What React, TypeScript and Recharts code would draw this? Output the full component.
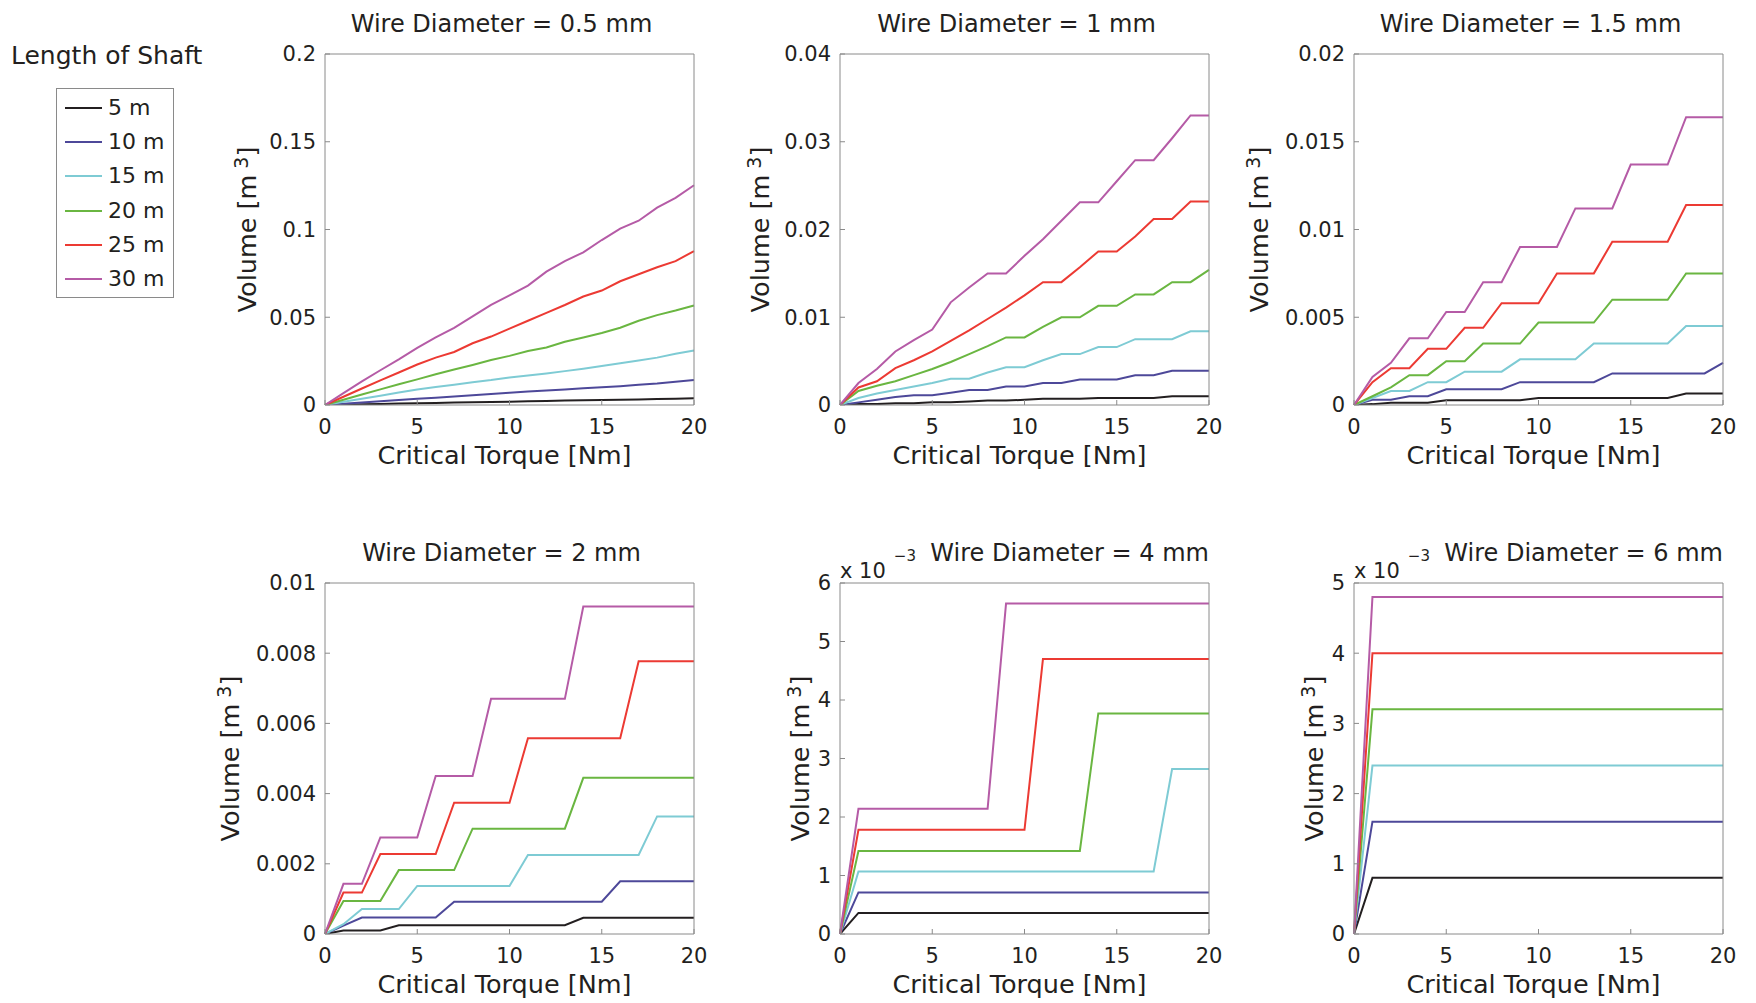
import { LineChart, Line, XAxis, YAxis, Label, Legend } from 'recharts'

const FONT = '"DejaVu Sans", sans-serif'
const INK = '#231f20'
const FRAME = '#8a8a8a'

const TORQUE = [0, 1, 2, 3, 4, 5, 6, 7, 8, 9, 10, 11, 12, 13, 14, 15, 16, 17, 18, 19, 20]
const X_TICKS = [0, 5, 10, 15, 20]
const LENGTHS = ['5 m', '10 m', '15 m', '20 m', '25 m', '30 m']
const COLORS = ['#231f20', '#4d4899', '#7ecbd4', '#6ab641', '#ec3a33', '#b55ba6']

// volume [m^3] per shaft length (rows 5 m ... 30 m), one value per torque step 0..20 Nm
const VOL_05 = [
  [0, 0.0002, 0.0004, 0.0006, 0.0008, 0.001, 0.0012, 0.0014, 0.0016, 0.0017, 0.0019, 0.0021, 0.0023, 0.0025, 0.0027, 0.0029, 0.003, 0.0032, 0.0034, 0.0036, 0.0038],
  [0, 0.0007, 0.0014, 0.0021, 0.0028, 0.0035, 0.0042, 0.0049, 0.0056, 0.0063, 0.007, 0.0077, 0.0083, 0.0089, 0.0095, 0.0101, 0.0107, 0.0115, 0.0122, 0.0132, 0.0142],
  [0, 0.0018, 0.0036, 0.0053, 0.0071, 0.0088, 0.0102, 0.0116, 0.013, 0.0142, 0.0157, 0.0168, 0.018, 0.0193, 0.0207, 0.0222, 0.0238, 0.0254, 0.027, 0.0292, 0.031],
  [0, 0.003, 0.006, 0.0089, 0.0118, 0.0146, 0.0175, 0.0202, 0.0228, 0.0256, 0.028, 0.0308, 0.0328, 0.036, 0.0385, 0.041, 0.044, 0.048, 0.0512, 0.0538, 0.0567],
  [0, 0.0047, 0.0094, 0.014, 0.0185, 0.0231, 0.027, 0.0302, 0.0352, 0.039, 0.0435, 0.048, 0.0525, 0.057, 0.0618, 0.0652, 0.0705, 0.0745, 0.0785, 0.082, 0.0877],
  [0, 0.0068, 0.0135, 0.0198, 0.026, 0.0326, 0.0385, 0.044, 0.0505, 0.057, 0.0625, 0.068, 0.076, 0.082, 0.087, 0.094, 0.1005, 0.105, 0.1125, 0.118, 0.1252],
]

const VOL_1 = [
  [0, 0.0001, 0.0001, 0.0002, 0.0002, 0.0003, 0.0003, 0.0004, 0.0005, 0.0005, 0.0006, 0.0007, 0.0007, 0.0007, 0.0008, 0.0008, 0.0008, 0.0008, 0.001, 0.001, 0.001],
  [0, 0.0003, 0.0006, 0.0009, 0.0011, 0.0011, 0.0014, 0.0017, 0.0017, 0.0021, 0.0021, 0.0025, 0.0025, 0.0029, 0.0029, 0.0029, 0.0034, 0.0034, 0.0039, 0.0039, 0.0039],
  [0, 0.0008, 0.0013, 0.0017, 0.0021, 0.0025, 0.003, 0.003, 0.0037, 0.0043, 0.0043, 0.0051, 0.0058, 0.0058, 0.0066, 0.0066, 0.0075, 0.0075, 0.0075, 0.0084, 0.0084],
  [0, 0.0016, 0.0022, 0.0027, 0.0034, 0.0041, 0.0049, 0.0058, 0.0067, 0.0077, 0.0077, 0.0089, 0.01, 0.01, 0.0113, 0.0113, 0.0126, 0.0126, 0.014, 0.014, 0.0154],
  [0, 0.002, 0.0027, 0.0042, 0.0051, 0.0061, 0.0073, 0.0085, 0.0098, 0.0111, 0.0125, 0.014, 0.014, 0.0157, 0.0175, 0.0175, 0.0192, 0.0212, 0.0212, 0.0232, 0.0232],
  [0, 0.0025, 0.0041, 0.0061, 0.0074, 0.0086, 0.0117, 0.0134, 0.015, 0.015, 0.017, 0.0189, 0.021, 0.0231, 0.0231, 0.0255, 0.0279, 0.0279, 0.0304, 0.033, 0.033],
]

const VOL_15 = [
  [0, 0.00005, 0.00013, 0.00013, 0.00013, 0.00027, 0.00027, 0.00027, 0.00027, 0.00027, 0.0004, 0.0004, 0.0004, 0.0004, 0.0004, 0.0004, 0.0004, 0.0004, 0.00065, 0.00065, 0.00065],
  [0, 0.0003, 0.0003, 0.0005, 0.0005, 0.0009, 0.0009, 0.0009, 0.0009, 0.0013, 0.0013, 0.0013, 0.0013, 0.0013, 0.0018, 0.0018, 0.0018, 0.0018, 0.0018, 0.0018, 0.0024],
  [0, 0.0004, 0.0008, 0.0008, 0.0013, 0.0013, 0.0019, 0.0019, 0.0019, 0.0026, 0.0026, 0.0026, 0.0026, 0.0035, 0.0035, 0.0035, 0.0035, 0.0035, 0.0045, 0.0045, 0.0045],
  [0, 0.0005, 0.001, 0.0017, 0.0017, 0.0025, 0.0025, 0.0035, 0.0035, 0.0035, 0.0047, 0.0047, 0.0047, 0.0047, 0.006, 0.006, 0.006, 0.006, 0.0075, 0.0075, 0.0075],
  [0, 0.0013, 0.0021, 0.0021, 0.0032, 0.0032, 0.0044, 0.0044, 0.0058, 0.0058, 0.0058, 0.0075, 0.0075, 0.0075, 0.0093, 0.0093, 0.0093, 0.0093, 0.0114, 0.0114, 0.0114],
  [0, 0.0016, 0.0024, 0.0038, 0.0038, 0.0053, 0.0053, 0.007, 0.007, 0.009, 0.009, 0.009, 0.0112, 0.0112, 0.0112, 0.0137, 0.0137, 0.0137, 0.0164, 0.0164, 0.0164],
]

const VOL_2 = [
  [0, 0.0001, 0.0001, 0.0001, 0.00025, 0.00025, 0.00025, 0.00025, 0.00025, 0.00025, 0.00025, 0.00025, 0.00025, 0.00025, 0.00046, 0.00046, 0.00046, 0.00046, 0.00046, 0.00046, 0.00046],
  [0, 0.00024, 0.00047, 0.00047, 0.00047, 0.00047, 0.00047, 0.00092, 0.00092, 0.00092, 0.00092, 0.00092, 0.00092, 0.00092, 0.00092, 0.00092, 0.0015, 0.0015, 0.0015, 0.0015, 0.0015],
  [0, 0.00028, 0.00071, 0.00071, 0.00071, 0.00137, 0.00137, 0.00137, 0.00137, 0.00137, 0.00137, 0.00225, 0.00225, 0.00225, 0.00225, 0.00225, 0.00225, 0.00225, 0.00335, 0.00335, 0.00335],
  [0, 0.00094, 0.00094, 0.00094, 0.00182, 0.00182, 0.00182, 0.00182, 0.003, 0.003, 0.003, 0.003, 0.003, 0.003, 0.00445, 0.00445, 0.00445, 0.00445, 0.00445, 0.00445, 0.00445],
  [0, 0.00118, 0.00118, 0.00228, 0.00228, 0.00228, 0.00228, 0.00374, 0.00374, 0.00374, 0.00374, 0.00558, 0.00558, 0.00558, 0.00558, 0.00558, 0.00558, 0.00777, 0.00777, 0.00777, 0.00777],
  [0, 0.00143, 0.00143, 0.00275, 0.00275, 0.00275, 0.0045, 0.0045, 0.0045, 0.0067, 0.0067, 0.0067, 0.0067, 0.0067, 0.00933, 0.00933, 0.00933, 0.00933, 0.00933, 0.00933, 0.00933],
]

const VOL_4 = [
  [0, 0.00036, 0.00036, 0.00036, 0.00036, 0.00036, 0.00036, 0.00036, 0.00036, 0.00036, 0.00036, 0.00036, 0.00036, 0.00036, 0.00036, 0.00036, 0.00036, 0.00036, 0.00036, 0.00036, 0.00036],
  [0, 0.00071, 0.00071, 0.00071, 0.00071, 0.00071, 0.00071, 0.00071, 0.00071, 0.00071, 0.00071, 0.00071, 0.00071, 0.00071, 0.00071, 0.00071, 0.00071, 0.00071, 0.00071, 0.00071, 0.00071],
  [0, 0.00107, 0.00107, 0.00107, 0.00107, 0.00107, 0.00107, 0.00107, 0.00107, 0.00107, 0.00107, 0.00107, 0.00107, 0.00107, 0.00107, 0.00107, 0.00107, 0.00107, 0.00282, 0.00282, 0.00282],
  [0, 0.00142, 0.00142, 0.00142, 0.00142, 0.00142, 0.00142, 0.00142, 0.00142, 0.00142, 0.00142, 0.00142, 0.00142, 0.00142, 0.00377, 0.00377, 0.00377, 0.00377, 0.00377, 0.00377, 0.00377],
  [0, 0.00178, 0.00178, 0.00178, 0.00178, 0.00178, 0.00178, 0.00178, 0.00178, 0.00178, 0.00178, 0.0047, 0.0047, 0.0047, 0.0047, 0.0047, 0.0047, 0.0047, 0.0047, 0.0047, 0.0047],
  [0, 0.00214, 0.00214, 0.00214, 0.00214, 0.00214, 0.00214, 0.00214, 0.00214, 0.00565, 0.00565, 0.00565, 0.00565, 0.00565, 0.00565, 0.00565, 0.00565, 0.00565, 0.00565, 0.00565, 0.00565],
]

const VOL_6 = [
  [0, 0.0008, 0.0008, 0.0008, 0.0008, 0.0008, 0.0008, 0.0008, 0.0008, 0.0008, 0.0008, 0.0008, 0.0008, 0.0008, 0.0008, 0.0008, 0.0008, 0.0008, 0.0008, 0.0008, 0.0008],
  [0, 0.0016, 0.0016, 0.0016, 0.0016, 0.0016, 0.0016, 0.0016, 0.0016, 0.0016, 0.0016, 0.0016, 0.0016, 0.0016, 0.0016, 0.0016, 0.0016, 0.0016, 0.0016, 0.0016, 0.0016],
  [0, 0.0024, 0.0024, 0.0024, 0.0024, 0.0024, 0.0024, 0.0024, 0.0024, 0.0024, 0.0024, 0.0024, 0.0024, 0.0024, 0.0024, 0.0024, 0.0024, 0.0024, 0.0024, 0.0024, 0.0024],
  [0, 0.0032, 0.0032, 0.0032, 0.0032, 0.0032, 0.0032, 0.0032, 0.0032, 0.0032, 0.0032, 0.0032, 0.0032, 0.0032, 0.0032, 0.0032, 0.0032, 0.0032, 0.0032, 0.0032, 0.0032],
  [0, 0.004, 0.004, 0.004, 0.004, 0.004, 0.004, 0.004, 0.004, 0.004, 0.004, 0.004, 0.004, 0.004, 0.004, 0.004, 0.004, 0.004, 0.004, 0.004, 0.004],
  [0, 0.0048, 0.0048, 0.0048, 0.0048, 0.0048, 0.0048, 0.0048, 0.0048, 0.0048, 0.0048, 0.0048, 0.0048, 0.0048, 0.0048, 0.0048, 0.0048, 0.0048, 0.0048, 0.0048, 0.0048],
]

const VOLUMES = [VOL_05, VOL_1, VOL_15, VOL_2, VOL_4, VOL_6]
const DIAMETERS = ['0.5', '1', '1.5', '2', '4', '6']
const Y_MAX = [0.2, 0.04, 0.02, 0.01, 0.006, 0.005]
const Y_TICKS = [
  [0, 0.05, 0.1, 0.15, 0.2],
  [0, 0.01, 0.02, 0.03, 0.04],
  [0, 0.005, 0.01, 0.015, 0.02],
  [0, 0.002, 0.004, 0.006, 0.008, 0.01],
  [0, 0.001, 0.002, 0.003, 0.004, 0.005, 0.006],
  [0, 0.001, 0.002, 0.003, 0.004, 0.005],
]
const SCALED = [false, false, false, false, true, true] // axis shown as "x 10^-3"

// layout (page pixels)
const PLOT_LEFT = [325, 840, 1354]
const PLOT_TOP = [54, 583]
const PLOT_W = 369
const PLOT_H = 351
const YLABEL_GAP = [78, 80, 95, 95, 40, 40]
const PAD_L = 130
const PAD_T = 50
const PAD_R = 20
const PAD_B = 75
const Y_AXIS_W = 110
const X_AXIS_H = 70

const tickStyle = { fontSize: 21, fill: INK, fontFamily: FONT }

function LegendBox({ payload }: any) {
  const items = [...(payload || [])].sort(
    (a: any, b: any) => LENGTHS.indexOf(a.value) - LENGTHS.indexOf(b.value),
  )
  return (
    <div style={{ fontFamily: FONT, color: INK }}>
      <div style={{ fontSize: 25, lineHeight: '30px', whiteSpace: 'nowrap' }}>Length of Shaft</div>
      <div
        style={{
          marginTop: 17, marginLeft: 45, width: 116, height: 206, paddingTop: 2,
          border: `1px solid ${FRAME}`, background: '#fff',
        }}
      >
        {items.map((p: any) => (
          <div key={p.value} style={{ display: 'flex', alignItems: 'center', height: 34.2 }}>
            <span style={{ display: 'inline-block', marginLeft: 8, width: 37, height: 2, background: p.color }} />
            <span style={{ marginLeft: 6, fontSize: 22, lineHeight: '24px' }}>{p.value}</span>
          </div>
        ))}
      </div>
    </div>
  )
}

function Panel({ idx }: { idx: number }) {
  const col = idx % 3
  const row = Math.floor(idx / 3)
  const left = PLOT_LEFT[col] - PAD_L
  const top = PLOT_TOP[row] - PAD_T
  const vol = VOLUMES[idx]
  const scaled = SCALED[idx]
  const data = TORQUE.map((t, i) => {
    const r: Record<string, number> = { t }
    vol.forEach((s, k) => { r['L' + k] = s[i] })
    return r
  })
  const fmtY = (v: number) => (scaled ? String(Math.round(v * 1000)) : v === 0 ? '0' : String(v))
  const title = `Wire Diameter = ${DIAMETERS[idx]} mm`

  const TitleContent = ({ viewBox }: any) => {
    const x = viewBox.x
    const y = viewBox.y + viewBox.height
    const width = viewBox.width
    if (!scaled) {
      return (
        <text x={x + width / 2 - 8} y={y - 22} textAnchor="middle" fontSize={24} fill={INK} fontFamily={FONT}>
          {title}
        </text>
      )
    }
    return (
      <g>
        <text x={x} y={y - 5} fontSize={21} fill={INK} fontFamily={FONT}>
          x 10<tspan dx={8} dy={-17} fontSize={15}>−3</tspan>
        </text>
        <text x={x + width} y={y - 22} textAnchor="end" fontSize={24} fill={INK} fontFamily={FONT}>
          {title}
        </text>
      </g>
    )
  }

  const XTitle = ({ viewBox }: any) => {
    const { x, y, width } = viewBox
    return (
      <text x={x + width / 2 - 5} y={y + 59} textAnchor="middle" fontSize={25.5} fill={INK} fontFamily={FONT}>
        Critical Torque [Nm]
      </text>
    )
  }

  const YTitle = ({ viewBox }: any) => {
    const cx = viewBox.x + viewBox.width - YLABEL_GAP[idx] + 9
    const cy = viewBox.y + viewBox.height / 2
    return (
      <text x={cx} y={cy} transform={`rotate(-90 ${cx} ${cy})`} textAnchor="middle" fontSize={25.5} fill={INK} fontFamily={FONT}>
        Volume [m<tspan dx={6} dy={-8} fontSize={19}>3</tspan><tspan dy={8}>]</tspan>
      </text>
    )
  }

  return (
    <div style={{ position: 'absolute', left, top }}>
      <LineChart
        width={PAD_L + PLOT_W + PAD_R}
        height={PAD_T + PLOT_H + PAD_B}
        data={data}
        margin={{ top: PAD_T - 1, right: PAD_R - 1, bottom: PAD_B - X_AXIS_H, left: PAD_L - Y_AXIS_W }}
      >
        <XAxis
          dataKey="t" type="number" domain={[0, 20]} ticks={X_TICKS} interval={0}
          height={X_AXIS_H} tickSize={-5} tickMargin={19} tick={tickStyle}
          axisLine={{ stroke: FRAME }} tickLine={{ stroke: FRAME }}
        >
          <Label content={XTitle} />
        </XAxis>
        <XAxis
          xAxisId="top" orientation="top" dataKey="t" type="number" domain={[0, 20]} ticks={X_TICKS}
          interval={0} height={1} tickSize={-5} tick={false}
          axisLine={{ stroke: FRAME }} tickLine={{ stroke: FRAME }}
        >
          <Label content={TitleContent} />
        </XAxis>
        <YAxis
          type="number" domain={[0, Y_MAX[idx]]} ticks={Y_TICKS[idx]} interval={0} allowDataOverflow
          width={Y_AXIS_W} tickSize={-5} tickMargin={14} tick={tickStyle} tickFormatter={fmtY}
          axisLine={{ stroke: FRAME }} tickLine={{ stroke: FRAME }}
        >
          <Label content={YTitle} />
        </YAxis>
        <YAxis
          yAxisId="right" orientation="right" type="number" domain={[0, Y_MAX[idx]]} ticks={Y_TICKS[idx]}
          interval={0} width={1} tickSize={-5} tick={false}
          axisLine={{ stroke: FRAME }} tickLine={{ stroke: FRAME }}
        />
        {idx === 0 && (
          <Legend
            content={LegendBox}
            layout="vertical"
            align="center"
            verticalAlign="middle"
            wrapperStyle={{ left: 11 - left, top: 41 - top, width: 220, height: 'auto' }}
          />
        )}
        {LENGTHS.map((name, k) => (
          <Line
            key={name}
            name={name}
            dataKey={'L' + k}
            type="linear"
            stroke={COLORS[k]}
            strokeWidth={2}
            dot={false}
            activeDot={false}
            isAnimationActive={false}
          />
        ))}
      </LineChart>
    </div>
  )
}

export default function App() {
  return (
    <div style={{ position: 'absolute', left: 0, top: 0, width: 1756, height: 1003, background: '#fff', fontFamily: FONT }}>
      {[0, 1, 2, 3, 4, 5].map((i) => (
        <Panel key={i} idx={i} />
      ))}
    </div>
  )
}
